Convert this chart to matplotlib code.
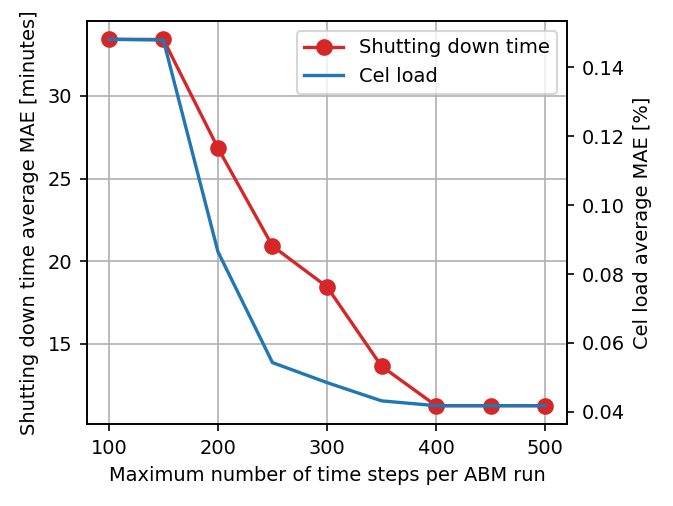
import matplotlib
matplotlib.use('Agg')
import matplotlib.pyplot as plt

# данные
steps = [100, 150, 200, 250, 300, 350, 400, 450, 500]
shut_down_mae = [33.43, 33.42, 26.85, 20.91, 18.44, 13.63, 11.24, 11.24, 11.24]
cel_load_mae = [0.1481, 0.1479, 0.0865, 0.0543, 0.0485, 0.0432, 0.0418, 0.0418, 0.0418]

plt.rcParams['font.size'] = 9.3

fig, ax1 = plt.subplots(figsize=(673 / 150, 506 / 150), dpi=150)
fig.subplots_adjust(left=87 / 673, right=567 / 673, top=1 - 21 / 506, bottom=1 - 424 / 506)

l1, = ax1.plot(steps, shut_down_mae, color='tab:red', marker='o', markersize=7,
               lw=1.6, label='Shutting down time')
ax1.set_xlabel('Maximum number of time steps per ABM run')
ax1.set_ylabel('Shutting down time average MAE [minutes]')
ax1.grid(True)

ax2 = ax1.twinx()
l2, = ax2.plot(steps, cel_load_mae, color='tab:blue', lw=1.6, label='Cel load')
ax2.set_ylabel('Cel load average MAE [%]')

ax2.legend(handles=[l1, l2], loc='upper right')

plt.savefig('out.png', dpi=150)
